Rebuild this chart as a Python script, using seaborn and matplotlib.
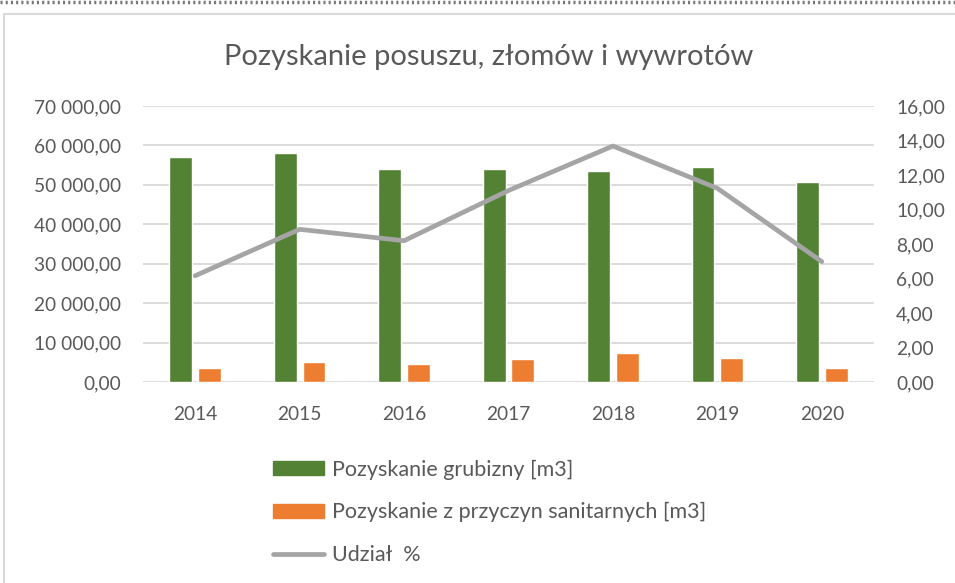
import seaborn as sns
import pandas as pd
import numpy as np
import matplotlib.pyplot as plt
from matplotlib.patches import Patch, Rectangle
from matplotlib.lines import Line2D
from matplotlib.ticker import FuncFormatter

years = ["2014", "2015", "2016", "2017", "2018", "2019", "2020"]
grubizna = [57000, 58000, 54000, 54000, 53600, 54500, 50600]
sanitarne = [3550, 5070, 4480, 5750, 7350, 6100, 3460]
udzial = [6.16, 8.85, 8.19, 11.1, 13.68, 11.23, 6.98]

lab_g = "Pozyskanie grubizny [m3]"
lab_s = "Pozyskanie z przyczyn sanitarnych [m3]"
lab_u = "Udział  %"

GREEN = "#548235"
ORANGE = "#ED7D31"
GREY = "#A5A5A5"
TXT = "#595959"
GRID = "#D9D9D9"

sns.set_theme(style="white")
plt.rcParams['font.family'] = ['Lato', 'DejaVu Sans']

df = pd.DataFrame({
    "rok": years * 2,
    "wartosc": grubizna + sanitarne,
    "seria": [lab_g] * len(years) + [lab_s] * len(years),
})


def pl_fmt(v, pos):
    s = f"{v:,.2f}"
    return s.replace(",", " ").replace(".", ",")


fig = plt.figure(figsize=(9.55, 5.83), dpi=100)
ax = fig.add_axes([143 / 955, 1 - 382 / 583, (874 - 143) / 955, (382 - 106) / 583])

sns.barplot(data=df, x="rok", y="wartosc", hue="seria",
            palette=[GREEN, ORANGE], width=0.55, gap=0.2,
            ax=ax, legend=False, saturation=1)
ax.set_ylim(0, 70000)
ax.set_yticks(np.arange(0, 70001, 10000))
ax.yaxis.set_major_formatter(FuncFormatter(pl_fmt))
ax.set_xlim(-0.5, len(years) - 0.5)
ax.set_xlabel("")
ax.set_ylabel("")
ax.grid(axis="y", color=GRID, lw=1.3)
ax.set_axisbelow(True)
for sp in ax.spines.values():
    sp.set_visible(False)
ax.tick_params(axis="y", length=0, labelsize=13.8, colors=TXT, pad=16)
ax.tick_params(axis="x", length=0, labelsize=13.8, colors=TXT, pad=17)

ax2 = ax.twinx()
sns.lineplot(x=np.arange(len(years)), y=udzial, ax=ax2, color=GREY, lw=3.4,
             solid_capstyle="round")
ax2.set_ylim(0, 16)
ax2.set_yticks(np.arange(0, 16.1, 2))
ax2.yaxis.set_major_formatter(FuncFormatter(lambda v, p: f"{v:.2f}".replace(".", ",")))
for sp in ax2.spines.values():
    sp.set_visible(False)
ax2.tick_params(axis="y", length=0, labelsize=13.8, colors=TXT, pad=16)
ax2.set_ylabel("")

fig.text(489 / 955, 1 - 57 / 583, "Pozyskanie posuszu, złomów i wywrotów",
         ha="center", va="center", fontsize=21, color=TXT)

handles = [Patch(facecolor=GREEN, edgecolor=GREEN),
           Patch(facecolor=ORANGE, edgecolor=ORANGE),
           Line2D([0], [0], color=GREY, lw=3.4, solid_capstyle="round")]
fig.legend(handles, [lab_g, lab_s, lab_u], loc="upper left",
           bbox_to_anchor=(254 / 955, 1 - 440 / 583), frameon=False,
           fontsize=15.5, labelcolor=TXT, handlelength=2.37, handleheight=0.6,
           handletextpad=0.37, labelspacing=1.05)

fig.patches.append(Rectangle((4 / 955, -0.05), 1.1, 1 - 14 / 583 + 0.05,
                             transform=fig.transFigure, fill=False,
                             edgecolor=GRID, lw=1.5))
fig.lines.append(Line2D([0, 1], [1 - 2 / 583, 1 - 2 / 583], transform=fig.transFigure,
                        color="#777777", lw=2.5, ls=(0, (0.6, 0.9))))

fig.savefig("out.png", dpi=100)
